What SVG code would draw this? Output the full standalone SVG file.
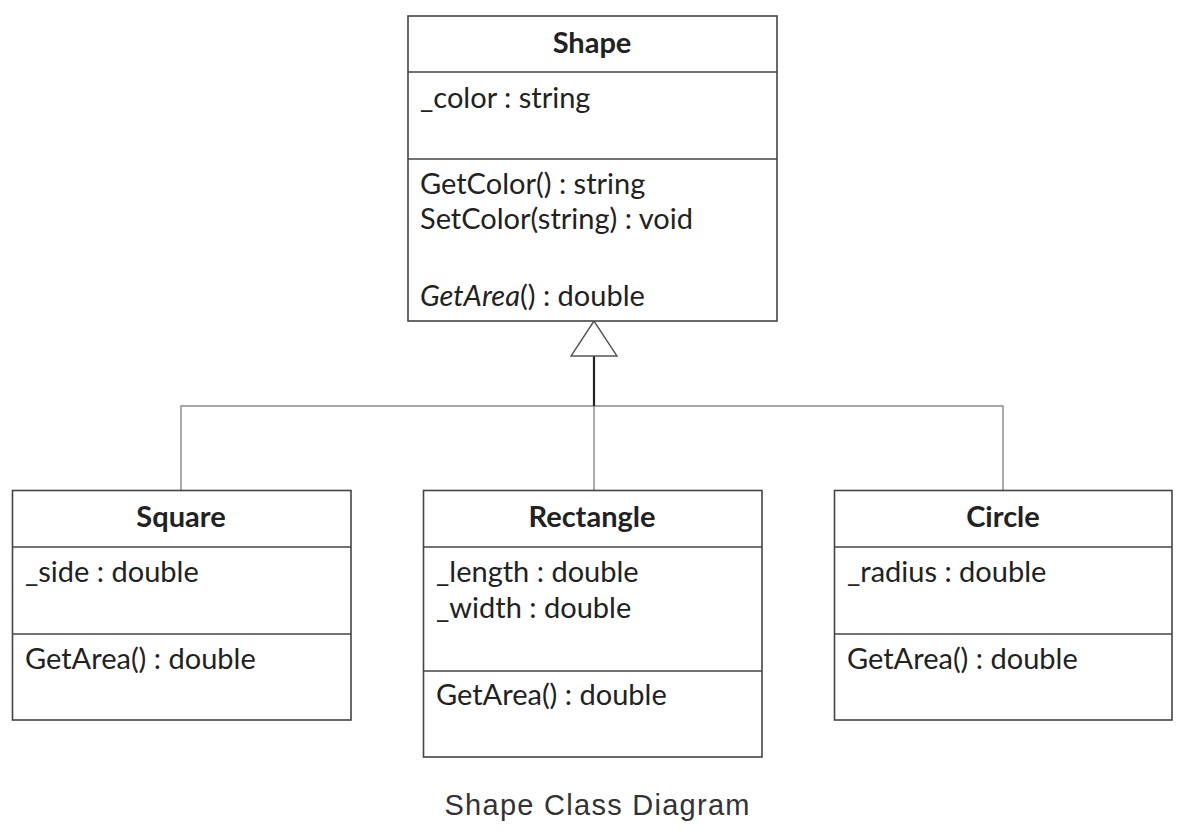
<svg xmlns="http://www.w3.org/2000/svg" width="1186" height="840" viewBox="0 0 1186 840">
<style>
.box{fill:#fff;stroke:#444;stroke-width:1.6}
.div{stroke:#444;stroke-width:1.6}
.t{font-family:Lato,"Open Sans",sans-serif;font-size:29px;fill:#222}
.b{font-weight:bold;text-anchor:middle}
.conn{stroke:#888;stroke-width:1.4;fill:none}
.cap{font-family:"Liberation Sans",Arial,sans-serif;font-size:29px;fill:#333;text-anchor:middle}
</style>
<rect width="1186" height="840" fill="#fff"/>
<g id="connectors">
<polyline class="conn" points="181,490 181,406 1003,406 1003,490"/>
<line class="conn" x1="594" y1="406" x2="594" y2="490"/>
<line x1="594" y1="356" x2="594" y2="406" stroke="#222" stroke-width="2.2"/>
<polygon points="594,321 571,356 617,356" fill="#fff" stroke="#555" stroke-width="1.4"/>
</g>
<g id="shape">
<rect class="box" x="408" y="16" width="369" height="305"/>
<line class="div" x1="408" y1="72" x2="777" y2="72"/>
<line class="div" x1="408" y1="159" x2="777" y2="159"/>
<text class="t b" x="592" y="53">Shape</text>
<text class="t" x="420" y="108">_color : string</text>
<text class="t" x="420" y="194">GetColor() : string</text>
<text class="t" x="420" y="229">SetColor(string) : void</text>
<text class="t" x="420" y="306"><tspan font-style="italic">GetArea</tspan>() : double</text>
</g>
<g id="square">
<rect class="box" x="12.5" y="490.5" width="338.5" height="229.5"/>
<line class="div" x1="12.5" y1="547" x2="351" y2="547"/>
<line class="div" x1="12.5" y1="634" x2="351" y2="634"/>
<text class="t b" x="181" y="527">Square</text>
<text class="t" x="25" y="582">_side : double</text>
<text class="t" x="25" y="669">GetArea() : double</text>
</g>
<g id="rectangle">
<rect class="box" x="423.5" y="490.5" width="338.5" height="266.5"/>
<line class="div" x1="423.5" y1="547" x2="762" y2="547"/>
<line class="div" x1="423.5" y1="671" x2="762" y2="671"/>
<text class="t b" x="592" y="527">Rectangle</text>
<text class="t" x="436" y="582">_length : double</text>
<text class="t" x="436" y="618">_width : double</text>
<text class="t" x="436" y="705">GetArea() : double</text>
</g>
<g id="circle">
<rect class="box" x="834.5" y="490.5" width="337.5" height="229.5"/>
<line class="div" x1="834.5" y1="547" x2="1172" y2="547"/>
<line class="div" x1="834.5" y1="634" x2="1172" y2="634"/>
<text class="t b" x="1003" y="527">Circle</text>
<text class="t" x="847" y="582">_radius : double</text>
<text class="t" x="847" y="669">GetArea() : double</text>
</g>
<text class="cap" x="597" y="815" textLength="305" lengthAdjust="spacing">Shape Class Diagram</text>
</svg>
